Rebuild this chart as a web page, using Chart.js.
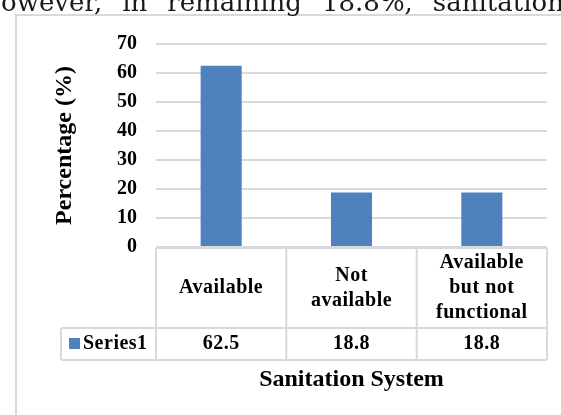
<!DOCTYPE html>
<html>
<head>
<meta charset="utf-8">
<script src="https://cdn.jsdelivr.net/npm/chart.js@4.4.1/dist/chart.umd.min.js"></script>
<style>
  html, body { margin: 0; padding: 0; background: #fff; }
  #wrap { width: 561px; height: 415px; position: relative; overflow: hidden; }
  canvas { display: block; }
</style>
</head>
<body>
<div id="wrap"><canvas id="c" width="561" height="415"></canvas></div>
<script>
// Sanitation system availability (% of respondents)
const categories = [["Available"], ["Not", "available"], ["Available", "but not", "functional"]];
const series1 = [62.5, 18.8, 18.8];
const seriesName = "Series1";
const yTickValues = [0, 10, 20, 30, 40, 50, 60, 70];
const xTitle = "Sanitation System";
const yTitle = "Percentage (%)";
const runningText = "owever, in remaining 18.8%, sanitation";

const GRID = "#d9d9d9";
const BAR = "#4f81bd";
const SERIF = '"Liberation Serif", "Times New Roman", serif';

// Frame, data table under the category axis, and the axis title
const tablePlugin = {
  id: "dataTable",
  beforeDraw(chart) {
    const ctx = chart.ctx;
    ctx.save();
    ctx.fillStyle = "#fff";
    ctx.fillRect(0, 0, chart.width, chart.height);
    ctx.strokeStyle = GRID;
    ctx.lineWidth = 2;
    ctx.beginPath();
    ctx.moveTo(16, chart.height);
    ctx.lineTo(16, 15);
    ctx.lineTo(chart.width, 15);
    ctx.stroke();
    ctx.restore();
  },
  afterDraw(chart) {
    const ctx = chart.ctx;
    const xs = chart.scales.x;
    const area = chart.chartArea;
    const n = categories.length;
    const step = (area.right - area.left) / n;
    const edges = [];
    for (let i = 0; i < n; i++) edges.push(xs.getPixelForValue(i) - step / 2);
    edges.push(xs.getPixelForValue(n - 1) + step / 2);

    const top = area.bottom + 1;
    const headBottom = top + 80;
    const rowBottom = headBottom + 32;
    const legendLeft = 61;

    ctx.save();
    ctx.strokeStyle = GRID;
    ctx.lineWidth = 2;
    ctx.beginPath();
    ctx.moveTo(edges[0], top); ctx.lineTo(edges[n], top);
    ctx.moveTo(legendLeft, headBottom); ctx.lineTo(edges[n], headBottom);
    ctx.moveTo(legendLeft, rowBottom); ctx.lineTo(edges[n], rowBottom);
    edges.forEach(e => { ctx.moveTo(e, top); ctx.lineTo(e, rowBottom); });
    ctx.moveTo(legendLeft, headBottom); ctx.lineTo(legendLeft, rowBottom);
    ctx.stroke();

    ctx.fillStyle = "#000";
    ctx.font = "bold 20px " + SERIF;
    ctx.letterSpacing = "0.5px";
    ctx.textAlign = "center";
    ctx.textBaseline = "middle";
    const headMid = (top + headBottom) / 2;
    const lh = 25;
    categories.forEach((lines, i) => {
      const cx = xs.getPixelForValue(i);
      const y0 = headMid - (lines.length - 1) * lh / 2;
      lines.forEach((t, k) => ctx.fillText(t, cx, y0 + k * lh));
    });
    const rowMid = (headBottom + rowBottom) / 2;
    series1.forEach((v, i) => ctx.fillText(v.toFixed(1), xs.getPixelForValue(i), rowMid));

    // legend key in the row header
    ctx.fillStyle = BAR;
    ctx.fillRect(69, rowMid - 6, 11, 11);
    ctx.fillStyle = "#000";
    ctx.textAlign = "left";
    ctx.fillText(seriesName, 83, rowMid);

    ctx.letterSpacing = "0px";
    ctx.font = "bold 24px " + SERIF;
    ctx.textAlign = "center";
    ctx.fillText(xTitle, (edges[0] + edges[n]) / 2, 380);

    // justified running text of the page above the figure
    ctx.font = '26px "DejaVu Serif", serif';
    ctx.fillStyle = "#1a1a1a";
    ctx.textAlign = "left";
    ctx.textBaseline = "alphabetic";
    let tx = 1;
    runningText.split(" ").forEach(w => {
      ctx.fillText(w, tx, 11);
      tx += ctx.measureText(w).width + 20;
    });
    ctx.restore();
  }
};

new Chart(document.getElementById("c"), {
  type: "bar",
  data: {
    labels: categories.map(c => c.join(" ")),
    datasets: [{
      label: seriesName,
      data: series1,
      backgroundColor: BAR,
      borderWidth: 0,
      categoryPercentage: 1,
      barPercentage: 0.315
    }]
  },
  options: {
    responsive: false,
    devicePixelRatio: 1,
    animation: false,
    layout: { padding: { left: 0, top: 44, right: 14, bottom: 0 } },
    plugins: { legend: { display: false }, tooltip: { enabled: false } },
    scales: {
      x: {
        ticks: { display: false },
        grid: { display: false },
        border: { display: false },
        afterFit(s) { s.height = 168; }
      },
      y: {
        min: 0,
        max: 70,
        afterBuildTicks(s) { s.ticks = yTickValues.map(v => ({ value: v })); },
        ticks: {
          color: "#000",
          padding: 19,
          font: { family: SERIF, size: 20, weight: "bold" }
        },
        grid: { color: GRID, lineWidth: 2, drawTicks: false },
        border: { display: false },
        title: {
          display: true,
          text: yTitle,
          color: "#000",
          padding: { top: 50, bottom: 0 },
          font: { family: SERIF, size: 24, weight: "bold" }
        },
        afterFit(s) { s.width = 156; }
      }
    }
  },
  plugins: [tablePlugin]
});
</script>
</body>
</html>
